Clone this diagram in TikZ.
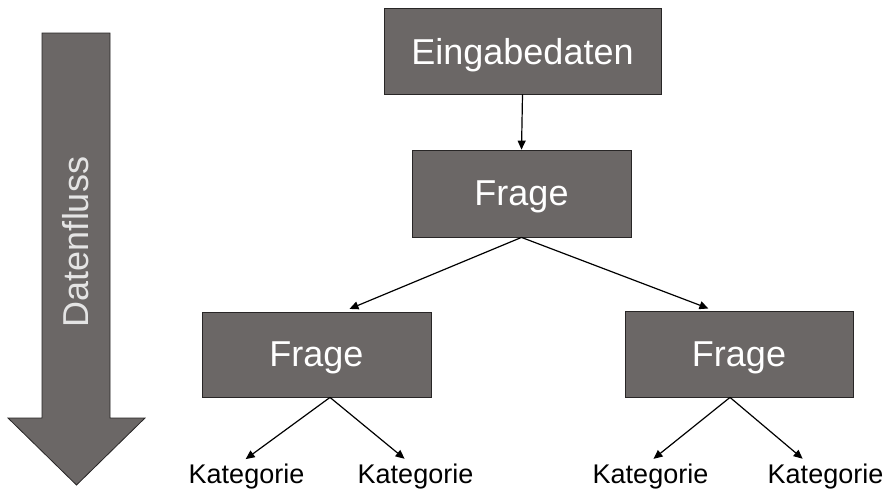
\documentclass[tikz,border=0pt]{standalone}
\usepackage{fontspec}
\setmainfont{Liberation Sans}
\usetikzlibrary{arrows.meta}
\definecolor{boxgray}{RGB}{107,103,102}
\definecolor{boxline}{RGB}{40,38,38}
\definecolor{flowtext}{RGB}{228,228,228}
\tikzset{
  qbox/.style={draw=boxline, line width=0.8pt, fill=boxgray, text=white, minimum width=#1, inner sep=0pt,
    text depth=0pt, font=\fontsize{36}{40}\selectfont},
  qbox/.default=219pt,
  cat/.style={inner sep=0pt, anchor=base, font=\fontsize{27}{30}\selectfont},
  conn/.style={line width=1.2pt, -{Triangle[length=9pt,width=8pt]}},
}
\begin{document}
\begin{tikzpicture}[x=1pt,y=-1pt]
\useasboundingbox (0,0) rectangle (890,488);
% big flow arrow
\draw[boxline, line width=0.8pt, fill=boxgray]
  (42,33) -- (110,33) -- (110,418) -- (145,418) -- (76.5,485) -- (8,418) -- (42,418) -- cycle;
\node[rotate=90, text=flowtext, inner sep=0pt, text depth=0pt, font=\fontsize{36}{40}\selectfont] (flow) at (75,242) {Datenfluss};
% boxes
\node[qbox=277pt, minimum height=86pt] (ein) at (522.5,51) {Eingabedaten};
\node[qbox=219pt, minimum height=87pt] (fq) at (521.5,193.5) {Frage};
\node[qbox=229pt, minimum height=85pt] (fl) at (316.5,354.5) {Frage};
\node[qbox=228pt, minimum height=86pt] (fr) at (739,354) {Frage};
% categories
\node[cat] (k1) at (246.5,483) {Kategorie};
\node[cat] (k2) at (415.5,483) {Kategorie};
\node[cat] (k3) at (650.5,483) {Kategorie};
\node[cat] (k4) at (825.5,483) {Kategorie};
% connectors
\draw[conn] (ein.south) -- (fq.north);
\draw[conn, shorten >=7pt] (fq.south) -- ([xshift=26.5pt]fl.north);
\draw[conn, shorten >=6pt] (fq.south) -- ([xshift=-25pt]fr.north);
\draw[conn, shorten >=7pt] ([xshift=13.5pt]fl.south) -- ([xshift=-6.5pt]k1.north);
\draw[conn, shorten >=7pt] ([xshift=13.5pt]fl.south) -- ([xshift=-5.5pt]k2.north);
\draw[conn, shorten >=7pt] ([xshift=-9pt]fr.south) -- ([xshift=-2.5pt]k3.north);
\draw[conn, shorten >=7pt] ([xshift=-9pt]fr.south) -- ([xshift=-17.5pt]k4.north);
\end{tikzpicture}
\end{document}
